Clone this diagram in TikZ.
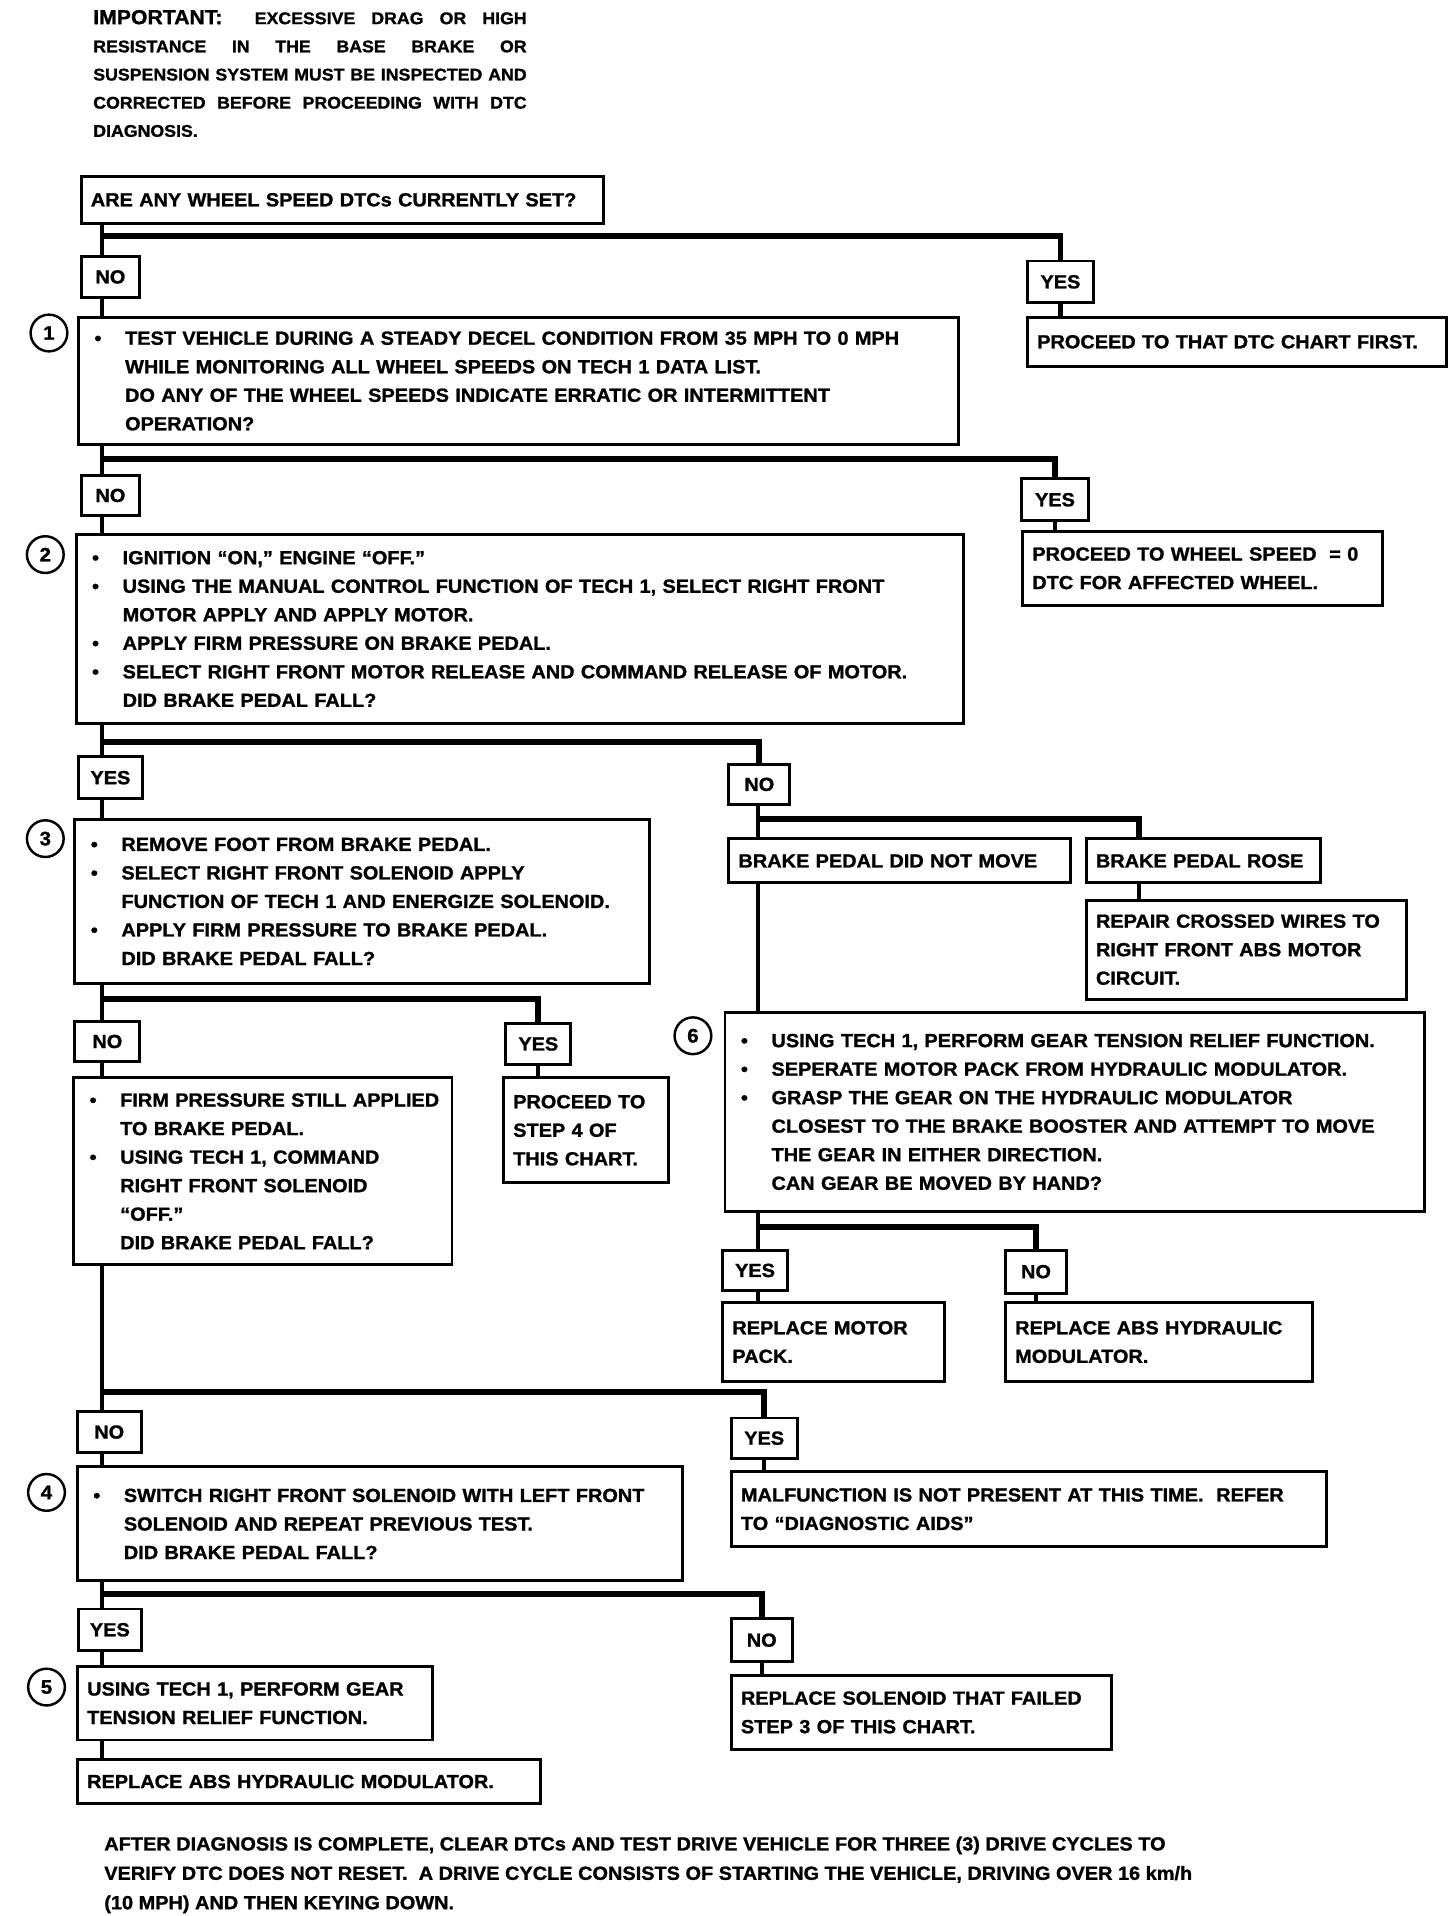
\documentclass[tikz,border=0pt]{standalone}
\usepackage{fontspec}
\setmainfont{Liberation Sans}[FakeStretch=1.05, BoldFeatures={FakeBold=1.2}]
\tikzset{
  box/.style={draw, line width=2.4pt, anchor=north west, inner xsep=8pt, inner ysep=0pt, align=left, font=\fontsize{15.5}{23.3}\selectfont\bfseries},
  lbl/.style={draw, line width=2.4pt, anchor=north west, inner sep=0pt, font=\fontsize{15.5}{18}\selectfont\bfseries},
  num/.style={draw, circle, line width=2pt, minimum size=30pt, inner sep=0pt, font=\fontsize{16}{16}\selectfont\bfseries},
  wire/.style={line width=3.4pt},
  split/.style={line width=4.8pt},
}
\newcommand{\bulit}{\makebox[30pt][l]{\hspace{5pt}\textbullet}}
\newcommand{\indt}{\hspace*{30pt}}

\begin{document}
\begin{tikzpicture}[x=1pt, y=-1pt]
      \path[use as bounding box, fill=white] (0,0) rectangle (1189,1565);
      \node[anchor=north west, inner sep=0pt, text width=354pt, align=left, font=\fontsize{13.8}{23}\selectfont\bfseries] (hdr) at (76,8)
        {\spaceskip=0pt\xspaceskip=0pt\relax
         \makebox[354pt][s]{{\fontsize{16.5}{23}\selectfont IMPORTANT:}\ \ EXCESSIVE DRAG OR HIGH}\\
         \makebox[354pt][s]{RESISTANCE IN THE BASE BRAKE OR}\\
         \makebox[354pt][s]{SUSPENSION SYSTEM MUST BE INSPECTED AND}\\
         \makebox[354pt][s]{CORRECTED BEFORE PROCEEDING WITH DTC}\\
         DIAGNOSIS.};
      \node[box, minimum width=427pt, minimum height=38pt, text width=411pt] (q0) at (65,143) {ARE ANY WHEEL SPEED DTCs CURRENTLY SET?};
      \node[lbl, minimum width=48pt, minimum height=34pt] (no0) at (65,208) {NO};
      \node[lbl, minimum width=54pt, minimum height=34pt] (yes0) at (838,212) {YES};
      \node[box, minimum width=342pt, minimum height=40pt, text width=326pt] (p0) at (838,258) {PROCEED TO THAT DTC CHART FIRST.};
      \node[num] (c1) at (40,272) {1};
      \node[box, minimum width=719pt, minimum height=104pt, text width=703pt] (s1) at (63,258)
        {\bulit TEST VEHICLE DURING A STEADY DECEL CONDITION FROM 35 MPH TO 0 MPH\\
         \indt WHILE MONITORING ALL WHEEL SPEEDS ON TECH 1 DATA LIST.\\
         \indt DO ANY OF THE WHEEL SPEEDS INDICATE ERRATIC OR INTERMITTENT\\
         \indt OPERATION?};
      \node[lbl, minimum width=48pt, minimum height=33pt] (no1) at (65,387) {NO};
      \node[lbl, minimum width=55pt, minimum height=34pt] (yes1) at (833,390) {YES};
      \node[box, minimum width=294pt, minimum height=60pt, text width=278pt] (p1) at (834,433) {PROCEED TO WHEEL SPEED \ = 0\\DTC FOR AFFECTED WHEEL.};
      \node[num] (c2) at (37,453) {2};
      \node[box, minimum width=725pt, minimum height=155pt, text width=709pt] (s2) at (61,435)
        {\bulit IGNITION ``ON,'' ENGINE ``OFF.''\\
         \bulit USING THE MANUAL CONTROL FUNCTION OF TECH 1, SELECT RIGHT FRONT\\
         \indt MOTOR APPLY AND APPLY MOTOR.\\
         \bulit APPLY FIRM PRESSURE ON BRAKE PEDAL.\\
         \bulit SELECT RIGHT FRONT MOTOR RELEASE AND COMMAND RELEASE OF MOTOR.\\
         \indt DID BRAKE PEDAL FALL?};
      \node[lbl, minimum width=52pt, minimum height=34pt] (yes2) at (63,617) {YES};
      \node[lbl, minimum width=50pt, minimum height=33pt] (no2) at (594,623) {NO};
      \node[num] (c3) at (37,685) {3};
      \node[box, minimum width=469pt, minimum height=134pt, text width=453pt] (s3) at (60,668)
        {\bulit REMOVE FOOT FROM BRAKE PEDAL.\\
         \bulit SELECT RIGHT FRONT SOLENOID APPLY\\
         \indt FUNCTION OF TECH 1 AND ENERGIZE SOLENOID.\\
         \bulit APPLY FIRM PRESSURE TO BRAKE PEDAL.\\
         \indt DID BRAKE PEDAL FALL?};
      \node[box, minimum width=279pt, minimum height=36pt, text width=263pt] (still) at (594,684) {BRAKE PEDAL DID NOT MOVE};
      \node[box, minimum width=191pt, minimum height=36pt, text width=175pt] (rose) at (886,684) {BRAKE PEDAL ROSE};
      \node[box, minimum width=262pt, minimum height=81pt, text width=246pt] (wires) at (886,734) {REPAIR CROSSED WIRES TO\\RIGHT FRONT ABS MOTOR\\CIRCUIT.};
      \node[num] (c6) at (566,846) {6};
      \node[box, minimum width=571pt, minimum height=162pt, text width=555pt] (s6) at (591,826)
        {\bulit USING TECH 1, PERFORM GEAR TENSION RELIEF FUNCTION.\\
         \bulit SEPERATE MOTOR PACK FROM HYDRAULIC MODULATOR.\\
         \bulit GRASP THE GEAR ON THE HYDRAULIC MODULATOR\\
         \indt CLOSEST TO THE BRAKE BOOSTER AND ATTEMPT TO MOVE\\
         \indt THE GEAR IN EITHER DIRECTION.\\
         \indt CAN GEAR BE MOVED BY HAND?};
      \node[lbl, minimum width=53pt, minimum height=33pt] (yes6) at (589,1020) {YES};
      \node[lbl, minimum width=50pt, minimum height=35pt] (no6) at (820,1020) {NO};
      \node[box, minimum width=181pt, minimum height=64pt, text width=165pt] (motor) at (589,1063) {REPLACE MOTOR\\PACK.};
      \node[box, minimum width=251pt, minimum height=64pt, text width=235pt] (modr) at (820,1063) {REPLACE ABS HYDRAULIC\\MODULATOR.};
      \node[lbl, minimum width=53pt, minimum height=33pt] (no3) at (60,833) {NO};
      \node[lbl, minimum width=53pt, minimum height=33pt] (yes3) at (412,835) {YES};
      \node[box, minimum width=135pt, minimum height=86pt, text width=119pt] (p3) at (410,879) {PROCEED TO\\STEP 4 OF\\THIS CHART.};
      \node[box, minimum width=309pt, minimum height=153pt, text width=293pt] (s3b) at (59,879)
        {\bulit FIRM PRESSURE STILL APPLIED\\
         \indt TO BRAKE PEDAL.\\
         \bulit USING TECH 1, COMMAND\\
         \indt RIGHT FRONT SOLENOID\\
         \indt ``OFF.''\\
         \indt DID BRAKE PEDAL FALL?};
      \node[lbl, minimum width=52pt, minimum height=33pt] (no4) at (62,1152) {NO};
      \node[lbl, minimum width=54pt, minimum height=33pt] (yes4) at (596,1157) {YES};
      \node[box, minimum width=486pt, minimum height=61pt, text width=470pt] (p4) at (596,1201) {MALFUNCTION IS NOT PRESENT AT THIS TIME.\ \ REFER\\TO ``DIAGNOSTIC AIDS''};
      \node[num] (c4) at (38,1219) {4};
      \node[box, minimum width=494pt, minimum height=93pt, text width=478pt] (s4) at (62,1197)
        {\bulit SWITCH RIGHT FRONT SOLENOID WITH LEFT FRONT\\
         \indt SOLENOID AND REPEAT PREVIOUS TEST.\\
         \indt DID BRAKE PEDAL FALL?};
      \node[lbl, minimum width=51pt, minimum height=34pt] (yes5) at (63,1313) {YES};
      \node[lbl, minimum width=50pt, minimum height=35pt] (no5) at (596,1321) {NO};
      \node[box, minimum width=311pt, minimum height=61pt, text width=295pt] (p5) at (596,1367) {REPLACE SOLENOID THAT FAILED\\STEP 3 OF THIS CHART.};
      \node[num] (c5) at (38,1378) {5};
      \node[box, minimum width=290pt, minimum height=60pt, text width=274pt] (s5) at (62,1360) {USING TECH 1, PERFORM GEAR\\TENSION RELIEF FUNCTION.};
      \node[box, minimum width=378pt, minimum height=36pt, text width=362pt] (s5b) at (62,1436) {REPLACE ABS HYDRAULIC MODULATOR.};
      \node[anchor=north west, inner sep=0pt, align=left, font=\fontsize{15.5}{24}\selectfont\bfseries] (note) at (85,1500)
        {AFTER DIAGNOSIS IS COMPLETE, CLEAR DTCs AND TEST DRIVE VEHICLE FOR THREE (3) DRIVE CYCLES TO\\
         VERIFY DTC DOES NOT RESET.\ \ A DRIVE CYCLE CONSISTS OF STARTING THE VEHICLE, DRIVING OVER 16 km/h\\
         (10 MPH) AND THEN KEYING DOWN.};
      \coordinate (t) at (83,0);
      \coordinate (t6) at (619,0);
      \coordinate (b0) at (83,193);
      \coordinate (b1) at (83,375);
      \coordinate (b2) at (83,606);
      \coordinate (b2r) at (930,669);
      \coordinate (b3) at (83,816);
      \coordinate (b6) at (619,1002);
      \coordinate (b4) at (83,1137);
      \coordinate (b5) at (83,1302);
      \draw[wire] (q0.south -| t) -- (no0.north -| t);
      \draw[split] (b0) -| (yes0.north);
      \draw[wire] (yes0.south) -- (yes0.south |- p0.north);
      \draw[wire] (no0.south -| t) -- (s1.north -| t);
      \draw[wire] (s1.south -| t) -- (no1.north -| t);
      \draw[split] (b1) -| (yes1.north);
      \draw[wire] (yes1.south) -- (yes1.south |- p1.north);
      \draw[wire] (no1.south -| t) -- (s2.north -| t);
      \draw[wire] (s2.south -| t) -- (yes2.north -| t);
      \draw[split] (b2) -| (no2.north);
      \draw[wire] (yes2.south -| t) -- (s3.north -| t);
      \draw[wire] (no2.south -| t6) -- (still.north -| t6);
      \draw[split] (b2r -| t6) -- (b2r) -- (b2r |- rose.north);
      \draw[wire] (b2r |- rose.south) -- (b2r |- wires.north);
      \draw[wire] (still.south -| t6) -- (s6.north -| t6);
      \draw[wire] (s6.south -| t6) -- (yes6.north -| t6);
      \draw[split] (b6) -| (no6.north);
      \draw[wire] (yes6.south -| t6) -- (motor.north -| t6);
      \draw[wire] (no6.south) -- (no6.south |- modr.north);
      \draw[wire] (s3.south -| t) -- (no3.north -| t);
      \draw[split] (b3) -| (yes3.north);
      \draw[wire] (yes3.south) -- (yes3.south |- p3.north);
      \draw[wire] (no3.south -| t) -- (s3b.north -| t);
      \draw[wire] (s3b.south -| t) -- (no4.north -| t);
      \draw[split] (b4) -| (yes4.north);
      \draw[wire] (yes4.south) -- (yes4.south |- p4.north);
      \draw[wire] (no4.south -| t) -- (s4.north -| t);
      \draw[wire] (s4.south -| t) -- (yes5.north -| t);
      \draw[split] (b5) -| (no5.north);
      \draw[wire] (no5.south) -- (no5.south |- p5.north);
      \draw[wire] (yes5.south -| t) -- (s5.north -| t);
      \draw[wire] (s5.south -| t) -- (s5b.north -| t);
    \end{tikzpicture}
\end{document}
